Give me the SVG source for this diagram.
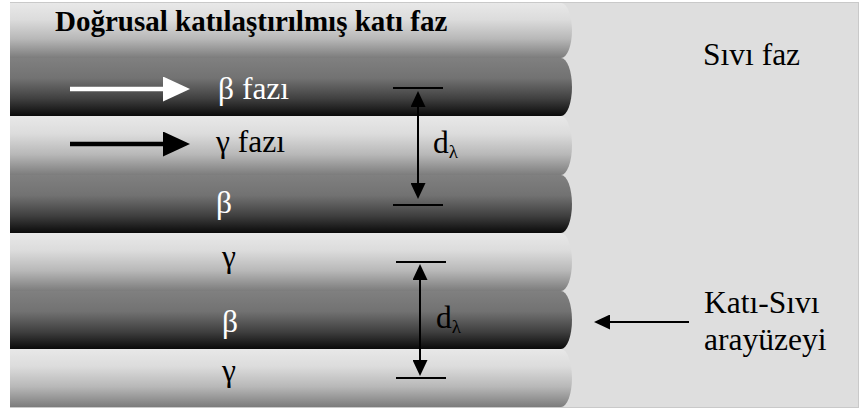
<svg xmlns="http://www.w3.org/2000/svg" width="861" height="410" viewBox="0 0 861 410">
  <style>
    text { font-family: 'Liberation Serif', 'DejaVu Serif', serif; font-size: 31.5px; fill: #000; }
    .title { font-weight: bold; font-size: 29px; }
    .light { fill: #fff; }
    .mid { text-anchor: middle; }
    .gamma { fill: url(#gGamma); }
    .beta { fill: url(#gBeta); }
    .dim { stroke: #000; stroke-width: 2; fill: none; }
    .tick { stroke: #000; stroke-width: 2; }
  </style>
  <defs>
    <linearGradient id="gGamma" x1="0" y1="0" x2="0" y2="1">
      <stop offset="0" stop-color="#e8e8e8"/>
      <stop offset="0.3" stop-color="#dcdcdc"/>
      <stop offset="0.65" stop-color="#b8b8b8"/>
      <stop offset="1" stop-color="#7c7c7c"/>
    </linearGradient>
    <linearGradient id="gBeta" x1="0" y1="0" x2="0" y2="1">
      <stop offset="0" stop-color="#808080"/>
      <stop offset="0.35" stop-color="#727272"/>
      <stop offset="0.7" stop-color="#404040"/>
      <stop offset="1" stop-color="#0a0a0a"/>
    </linearGradient>
    <marker id="headWhite" markerUnits="userSpaceOnUse" viewBox="0 0 27 25" markerWidth="27" markerHeight="25" refX="3" refY="12.5" orient="auto">
      <path d="M0,0 L27,12.5 L0,25 Z" fill="#fff"/>
    </marker>
    <marker id="headBlack" markerUnits="userSpaceOnUse" viewBox="0 0 27 25" markerWidth="27" markerHeight="25" refX="3" refY="12.5" orient="auto">
      <path d="M0,0 L27,12.5 L0,25 Z" fill="#000"/>
    </marker>
    <marker id="headDim" markerUnits="userSpaceOnUse" viewBox="0 0 16 15" markerWidth="16" markerHeight="15" refX="12" refY="7.5" orient="auto-start-reverse">
      <path d="M0,0 L16,7.5 L0,15 Z" fill="#000"/>
    </marker>
  </defs>

  <!-- page and liquid region -->
  <rect x="0" y="0" width="861" height="410" fill="#fff"/>
  <rect id="liquid" x="10.5" y="2.5" width="848" height="405" fill="#dedede" stroke="#c9c9c9" stroke-width="1"/>

  <!-- lamellae, each with a rounded growth front on the right -->
  <g id="lamellae">
    <g id="band1"><path class="gamma" d="M10,3 H561 A11,27.5 0 0 1 561,58 H10 Z"/></g>
    <g id="band2"><path class="beta" d="M10,58 H561 A11,29 0 0 1 561,116 H10 Z"/></g>
    <g id="band3"><path class="gamma" d="M10,116 H561 A11,29.5 0 0 1 561,175 H10 Z"/></g>
    <g id="band4"><path class="beta" d="M10,175 H561 A11,29 0 0 1 561,233 H10 Z"/></g>
    <g id="band5"><path class="gamma" d="M10,233 H561 A11,29 0 0 1 561,291 H10 Z"/></g>
    <g id="band6"><path class="beta" d="M10,291 H561 A11,29 0 0 1 561,349 H10 Z"/></g>
    <g id="band7"><path class="gamma" d="M10,349 H561 A11,29 0 0 1 561,407 H10 Z"/></g>
  </g>

  <!-- labels -->
  <g id="labels" font-family="'Liberation Serif', 'DejaVu Serif', serif">
    <text id="title" class="title" x="55" y="31">Doğrusal katılaştırılmış katı faz</text>
    <text id="liquid-label" x="703" y="65">Sıvı faz</text>
    <text id="beta-phase" class="light" x="218" y="99">β fazı</text>
    <text id="gamma-phase" x="216" y="152">γ fazı</text>
    <text id="beta4" class="light mid" x="224" y="213">β</text>
    <text id="gamma5" class="mid" x="229" y="267">γ</text>
    <text id="beta6" class="light mid" x="230" y="332">β</text>
    <text id="gamma7" class="mid" x="229" y="381">γ</text>
    <text id="spacing1" x="433" y="153" font-size="28">d<tspan font-size="19" dy="5">λ</tspan></text>
    <text id="spacing2" x="436" y="328" font-size="28">d<tspan font-size="19" dy="5">λ</tspan></text>
    <text id="interface-label" x="704" y="313">Katı-Sıvı</text>
    <text id="interface-label2" x="704" y="350">arayüzeyi</text>
  </g>

  <!-- connectors -->
  <g id="connectors">
    <line x1="70" y1="89" x2="166" y2="89" stroke="#fff" stroke-width="4.5" marker-end="url(#headWhite)"/>
    <line x1="70" y1="144" x2="166" y2="144" stroke="#000" stroke-width="4.5" marker-end="url(#headBlack)"/>

    <line class="tick" x1="393" y1="88" x2="443" y2="88"/>
    <line class="tick" x1="393" y1="205" x2="443" y2="205"/>
    <line class="dim" x1="418" y1="95" x2="418" y2="195" marker-start="url(#headDim)" marker-end="url(#headDim)"/>

    <line class="tick" x1="396" y1="262" x2="446" y2="262"/>
    <line class="tick" x1="396" y1="378" x2="446" y2="378"/>
    <line class="dim" x1="420" y1="268" x2="420" y2="372" marker-start="url(#headDim)" marker-end="url(#headDim)"/>

    <line class="dim" x1="689" y1="322" x2="598" y2="322" marker-end="url(#headDim)"/>
  </g>
</svg>
